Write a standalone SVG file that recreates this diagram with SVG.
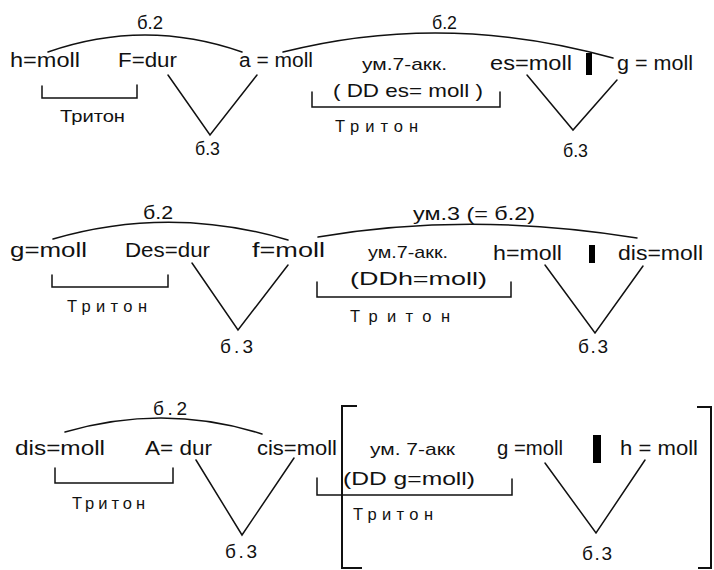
<svg xmlns="http://www.w3.org/2000/svg" width="714" height="570" viewBox="0 0 714 570">
<style>
text{font-family:"Liberation Sans","DejaVu Sans",sans-serif;fill:#111}
.k{font-size:20px}
.i{font-size:19px}
.t{font-size:16.5px}
.a{font-size:17px}
.c{fill:none;stroke:#111;stroke-width:1.5;stroke-linecap:round;stroke-linejoin:miter}
.b{fill:none;stroke:#111;stroke-width:2}
.bar{fill:#000}
</style>
<rect width="714" height="570" fill="#fff"/>
<g id="connectors">
<!-- row 1 -->
<path class="c" d="M48,52 Q145,18 242,52"/>
<path class="c" d="M283,52 Q445,11 613,58"/>
<path class="c" d="M42,86 V98 H137 V85"/>
<path class="c" d="M312,92 V107 H500 V92"/>
<path class="c" d="M168,75 L210,135 L257,75"/>
<path class="c" d="M527,75 L573,130 L617,80"/>
<!-- row 2 -->
<path class="c" d="M53,239 Q170,205 288,240"/>
<path class="c" d="M318,237 Q470,211 637,238"/>
<path class="c" d="M52,275 V287 H168 V275"/>
<path class="c" d="M317,282 V297 H511 V282"/>
<path class="c" d="M192,263 L238,330 L288,265"/>
<path class="c" d="M545,265 L595,333 L643,266"/>
<!-- row 3 -->
<path class="c" d="M65,432 Q165,403 262,434"/>
<path class="c" d="M55,468 V483 H173 V468"/>
<path class="c" d="M317,478 V495 H512 V479"/>
<path class="c" d="M196,460 L242,535 L294,458"/>
<path class="c" d="M545,463 L596,533 L645,460"/>
<path class="b" d="M357,406 H342 V568 H362"/>
<path class="b" d="M697,407 H711 V568 H698"/>
</g>
<g id="row1">
<g id="r1-int1"><text class="i" x="137" y="29" textLength="26" lengthAdjust="spacingAndGlyphs">б.2</text></g>
<g id="r1-int2"><text class="i" x="432" y="29" textLength="25" lengthAdjust="spacingAndGlyphs">б.2</text></g>
<g id="r1-h"><text class="k" x="10" y="67" textLength="70" lengthAdjust="spacingAndGlyphs">h=moll</text></g>
<g id="r1-F"><text class="k" x="118" y="67" textLength="59" lengthAdjust="spacingAndGlyphs">F=dur</text></g>
<g id="r1-a"><text class="k" x="239" y="67" textLength="74" lengthAdjust="spacingAndGlyphs">a = moll</text></g>
<g id="r1-um7">
<text class="a" x="362" y="70" textLength="85" lengthAdjust="spacingAndGlyphs">ум.7-акк.</text>
<text class="i" x="333" y="97" textLength="150" lengthAdjust="spacingAndGlyphs">( DD es= moll )</text>
</g>
<g id="r1-es"><text class="k" x="490" y="70" textLength="82" lengthAdjust="spacingAndGlyphs">es=moll</text></g>
<rect id="r1-bar" class="bar" x="586" y="53" width="6" height="22"/>
<g id="r1-g"><text class="k" x="617" y="70" textLength="76" lengthAdjust="spacingAndGlyphs">g = moll</text></g>
<g id="r1-tr1"><text class="t" x="60" y="122" textLength="65" lengthAdjust="spacingAndGlyphs">Тритон</text></g>
<g id="r1-tr2"><text class="t" x="335" y="132" textLength="83" lengthAdjust="spacing">Тритон</text></g>
<g id="r1-t3a"><text class="i" x="195" y="155" textLength="25" lengthAdjust="spacingAndGlyphs">б.3</text></g>
<g id="r1-t3b"><text class="i" x="563" y="157" textLength="25" lengthAdjust="spacingAndGlyphs">б.3</text></g>
</g>
<g id="row2">
<g id="r2-int1"><text class="i" x="143" y="219" textLength="30" lengthAdjust="spacingAndGlyphs">б.2</text></g>
<g id="r2-int2"><text class="i" x="413" y="220" textLength="122" lengthAdjust="spacingAndGlyphs">ум.3  (= б.2)</text></g>
<g id="r2-g"><text class="k" x="10" y="257" textLength="77" lengthAdjust="spacingAndGlyphs">g=moll</text></g>
<g id="r2-Des"><text class="k" x="125" y="257" textLength="85" lengthAdjust="spacingAndGlyphs">Des=dur</text></g>
<g id="r2-f"><text class="k" x="252" y="257" textLength="73" lengthAdjust="spacingAndGlyphs">f=moll</text></g>
<g id="r2-um7">
<text class="a" x="368" y="258" textLength="80" lengthAdjust="spacingAndGlyphs">ум.7-акк.</text>
<text class="i" x="350" y="285" textLength="137" lengthAdjust="spacingAndGlyphs">(DDh=moll)</text>
</g>
<g id="r2-h"><text class="k" x="493" y="260" textLength="69" lengthAdjust="spacingAndGlyphs">h=moll</text></g>
<rect id="r2-bar" class="bar" x="589" y="245" width="6" height="18"/>
<g id="r2-dis"><text class="k" x="618" y="260" textLength="85" lengthAdjust="spacingAndGlyphs">dis=moll</text></g>
<g id="r2-tr1"><text class="t" x="67" y="312" textLength="80" lengthAdjust="spacing">Тритон</text></g>
<g id="r2-tr2"><text class="t" x="350" y="322" textLength="100" lengthAdjust="spacing">Тритон</text></g>
<g id="r2-t3a"><text class="i" x="220" y="353" textLength="33" lengthAdjust="spacing">б.3</text></g>
<g id="r2-t3b"><text class="i" x="578" y="353" textLength="30" lengthAdjust="spacing">б.3</text></g>
</g>
<g id="row3">
<g id="r3-int1"><text class="i" x="153" y="415" textLength="34" lengthAdjust="spacing">б.2</text></g>
<g id="r3-dis"><text class="k" x="15" y="455" textLength="90" lengthAdjust="spacingAndGlyphs">dis=moll</text></g>
<g id="r3-A"><text class="k" x="145" y="455" textLength="67" lengthAdjust="spacingAndGlyphs">A= dur</text></g>
<g id="r3-cis"><text class="k" x="257" y="455" textLength="80" lengthAdjust="spacingAndGlyphs">cis=moll</text></g>
<g id="r3-um7">
<text class="a" x="370" y="455" textLength="85" lengthAdjust="spacingAndGlyphs">ум. 7-акк</text>
<text class="i" x="343" y="485" textLength="132" lengthAdjust="spacingAndGlyphs">(DD g=moll)</text>
</g>
<g id="r3-g"><text class="k" x="497" y="455" textLength="66" lengthAdjust="spacingAndGlyphs">g =moll</text></g>
<rect id="r3-bar" class="bar" x="593" y="435" width="8" height="28"/>
<g id="r3-h"><text class="k" x="620" y="455" textLength="78" lengthAdjust="spacingAndGlyphs">h = moll</text></g>
<g id="r3-tr1"><text class="t" x="72" y="509" textLength="73" lengthAdjust="spacing">Тритон</text></g>
<g id="r3-tr2"><text class="t" x="353" y="520" textLength="80" lengthAdjust="spacing">Тритон</text></g>
<g id="r3-t3a"><text class="i" x="225" y="558" textLength="32" lengthAdjust="spacing">б.3</text></g>
<g id="r3-t3b"><text class="i" x="582" y="560" textLength="30" lengthAdjust="spacing">б.3</text></g>
</g>
</svg>
